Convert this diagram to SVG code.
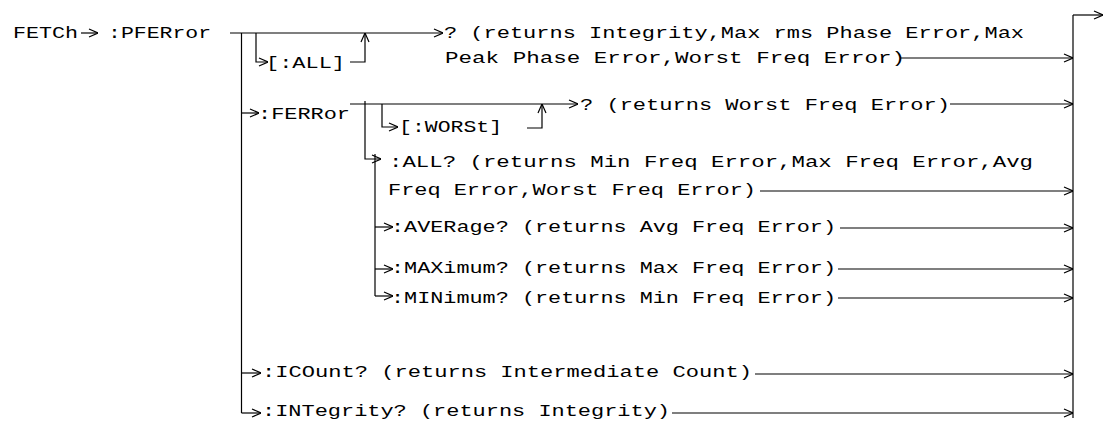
<svg xmlns="http://www.w3.org/2000/svg" width="1108" height="427" viewBox="0 0 1108 427">
<style>
.t{font-family:"Liberation Mono","DejaVu Sans Mono",monospace;font-size:16px;fill:#000}
.c line,.c path{stroke:#000;stroke-width:1.2;fill:none}
</style>
<defs>
<marker id="ah" viewBox="0 0 10 10" refX="10" refY="5" markerWidth="10" markerHeight="10" markerUnits="userSpaceOnUse" orient="auto">
<path d="M1,1 L10,5 L1,9" fill="none" stroke="#000" stroke-width="1.2"/>
</marker>
</defs>
<rect width="1108" height="427" fill="#fff"/>
<g id="n-fetch"><text class="t" x="13" y="38" textLength="65" lengthAdjust="spacingAndGlyphs">FETCh</text></g>
<g id="n-pferror"><text class="t" x="108" y="38" textLength="103" lengthAdjust="spacingAndGlyphs">:PFERror</text></g>
<g id="n-all"><text class="t" x="266" y="68" textLength="79" lengthAdjust="spacingAndGlyphs">[:ALL]</text></g>
<g id="n-pfq"><text class="t" x="444" y="38" textLength="580" lengthAdjust="spacingAndGlyphs">? (returns Integrity,Max rms Phase Error,Max</text><text class="t" x="445" y="63" textLength="460" lengthAdjust="spacingAndGlyphs">Peak Phase Error,Worst Freq Error)</text></g>
<g id="n-ferror"><text class="t" x="258" y="118.5" textLength="92" lengthAdjust="spacingAndGlyphs">:FERRor</text></g>
<g id="n-worst"><text class="t" x="399" y="131.5" textLength="103" lengthAdjust="spacingAndGlyphs">[:WORSt]</text></g>
<g id="n-fq"><text class="t" x="580" y="109.5" textLength="370" lengthAdjust="spacingAndGlyphs">? (returns Worst Freq Error)</text></g>
<g id="n-fall"><text class="t" x="389" y="167" textLength="644" lengthAdjust="spacingAndGlyphs">:ALL? (returns Min Freq Error,Max Freq Error,Avg</text><text class="t" x="388" y="195" textLength="368" lengthAdjust="spacingAndGlyphs">Freq Error,Worst Freq Error)</text></g>
<g id="n-aver"><text class="t" x="391" y="232" textLength="445" lengthAdjust="spacingAndGlyphs">:AVERage? (returns Avg Freq Error)</text></g>
<g id="n-max"><text class="t" x="391" y="273" textLength="445" lengthAdjust="spacingAndGlyphs">:MAXimum? (returns Max Freq Error)</text></g>
<g id="n-min"><text class="t" x="391" y="303" textLength="445" lengthAdjust="spacingAndGlyphs">:MINimum? (returns Min Freq Error)</text></g>
<g id="n-icount"><text class="t" x="262" y="377" textLength="490" lengthAdjust="spacingAndGlyphs">:ICOunt? (returns Intermediate Count)</text></g>
<g id="n-integrity"><text class="t" x="262" y="416" textLength="408" lengthAdjust="spacingAndGlyphs">:INTegrity? (returns Integrity)</text></g>
<g id="connectors" class="c">
<line x1="81" y1="33" x2="98" y2="33" marker-end="url(#ah)"/>
<line x1="230" y1="33" x2="443" y2="33" marker-end="url(#ah)"/>
<line x1="241.5" y1="33" x2="241.5" y2="413"/>
<path d="M256,33 V62 H268" marker-end="url(#ah)"/>
<path d="M350,62 H365 V33" marker-end="url(#ah)"/>
<path d="M241.5,113 H259" marker-end="url(#ah)"/>
<line x1="350" y1="104" x2="578" y2="104" marker-end="url(#ah)"/>
<path d="M365,101 V159 H381" marker-end="url(#ah)"/>
<path d="M382,104 V127 H398" marker-end="url(#ah)"/>
<path d="M527,128 H542 V104" marker-end="url(#ah)"/>
<line x1="375" y1="154" x2="375" y2="296"/>
<line x1="375" y1="227" x2="393" y2="227" marker-end="url(#ah)"/>
<line x1="375" y1="269" x2="393" y2="269" marker-end="url(#ah)"/>
<path d="M375,296 H393" marker-end="url(#ah)"/>
<line x1="241.5" y1="373" x2="261" y2="373" marker-end="url(#ah)"/>
<line x1="241.5" y1="413" x2="261" y2="413" marker-end="url(#ah)"/>
<line x1="1073" y1="15" x2="1073" y2="418"/>
<line x1="1073" y1="15" x2="1103" y2="15" marker-end="url(#ah)"/>
<line x1="900" y1="58" x2="1073" y2="58" marker-end="url(#ah)"/>
<line x1="950" y1="104" x2="1073" y2="104" marker-end="url(#ah)"/>
<line x1="760" y1="191" x2="1073" y2="191" marker-end="url(#ah)"/>
<line x1="840" y1="228" x2="1073" y2="228" marker-end="url(#ah)"/>
<line x1="838" y1="269" x2="1073" y2="269" marker-end="url(#ah)"/>
<line x1="838" y1="298" x2="1073" y2="298" marker-end="url(#ah)"/>
<line x1="755" y1="374" x2="1073" y2="374" marker-end="url(#ah)"/>
<line x1="672" y1="413" x2="1073" y2="413" marker-end="url(#ah)"/>
</g>
</svg>
